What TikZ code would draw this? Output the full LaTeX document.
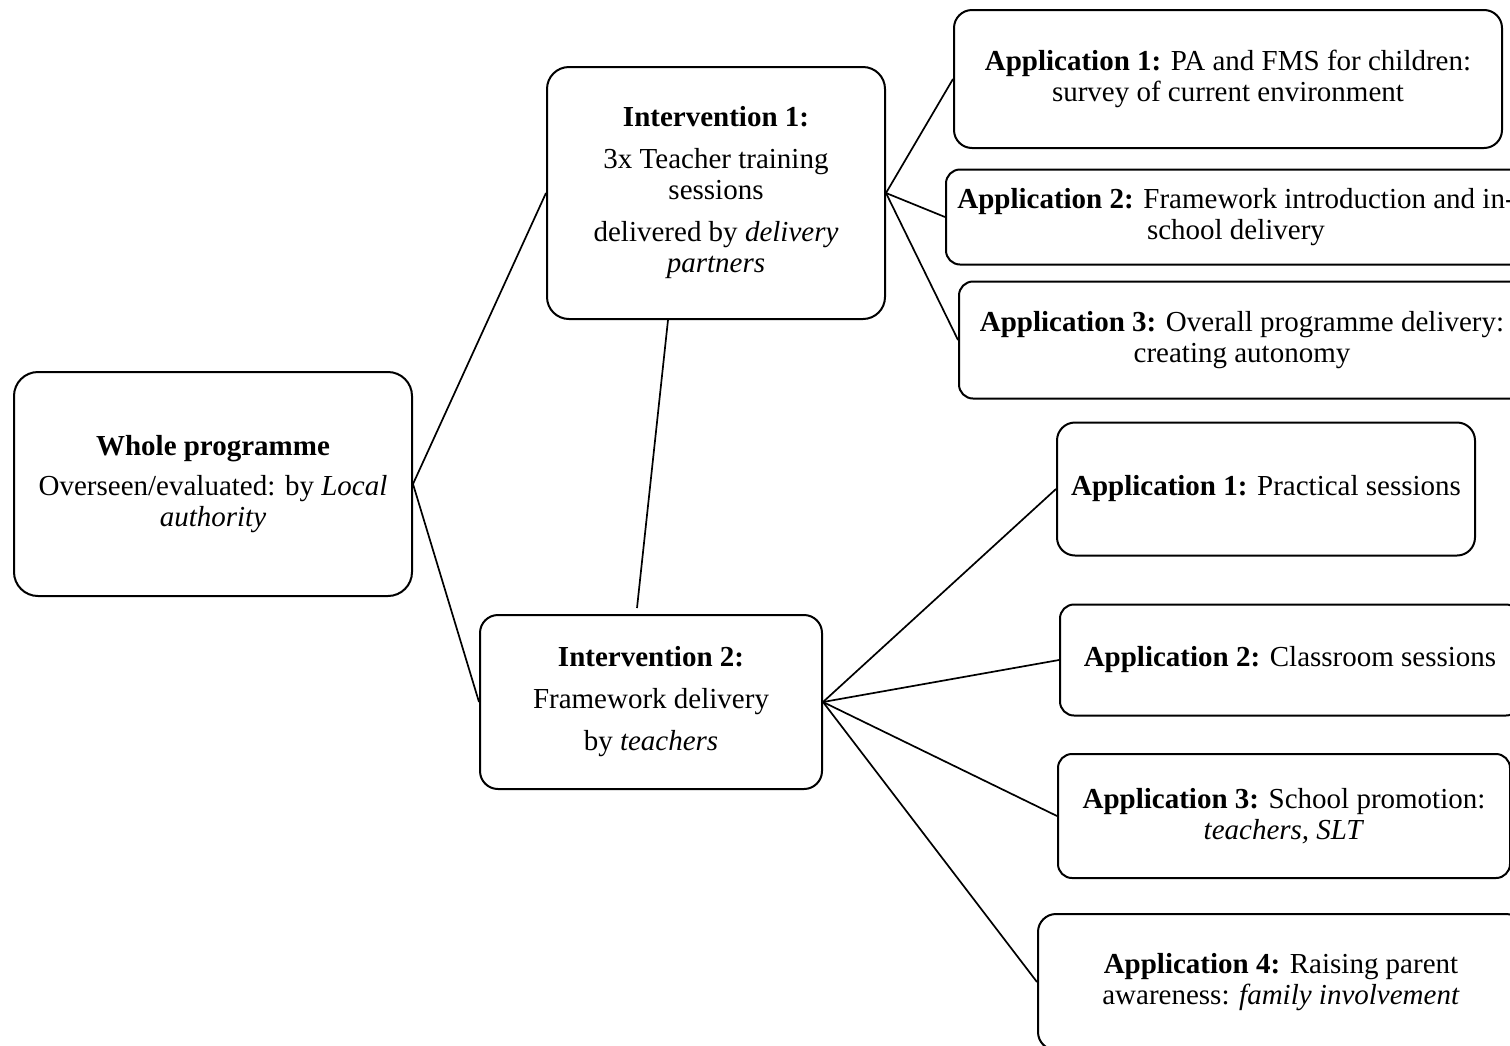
\documentclass[tikz,border=0pt]{standalone}
\usepackage{fontspec}
\setmainfont{Liberation Serif}
\usetikzlibrary{calc}
\tikzset{
  box/.style={draw, line width=2pt, rounded corners=18pt, align=center,
    inner sep=0pt, font=\fontsize{29}{31}\selectfont},
  link/.style={line width=1.7pt}
}
\begin{document}
\begin{tikzpicture}[x=1pt,y=-1pt]
\useasboundingbox (0,0) rectangle (1510,1045);
\clip (0,0) rectangle (1510,1045);

% programme level
\node[box, minimum width=398pt, minimum height=224pt, rounded corners=24pt] (whole) at (213,484)
  {\textbf{Whole programme}\\[9pt] Overseen/evaluated: by \textit{Local}\\ \textit{authority}};

% interventions
\node[box, minimum width=338pt, minimum height=252pt, rounded corners=22pt] (int1) at (716,193)
  {\textbf{Intervention 1:}\\[11pt] 3x Teacher training\\ sessions\\[11pt] delivered by \textit{delivery}\\ \textit{partners}};
\node[box, minimum width=342pt, minimum height=174pt] (int2) at (651,702)
  {\textbf{Intervention 2:}\\[11pt] Framework delivery\\[11pt] by \textit{teachers}};

% applications of intervention 1
\node[box, minimum width=548pt, minimum height=138pt] (a1) at (1228,79)
  {\textbf{Application 1:} PA and FMS for children:\\ survey of current environment};
\node[box, minimum width=580pt, minimum height=95pt, rounded corners=14pt] (a2) at (1236,217)
  {\textbf{Application 2:} Framework introduction and in-\\ school delivery};
\node[box, minimum width=566pt, minimum height=117pt, rounded corners=14pt] (a3) at (1242,340)
  {\textbf{Application 3:} Overall programme delivery:\\ creating autonomy};

% applications of intervention 2
\node[box, minimum width=418pt, minimum height=133pt] (b1) at (1266,489)
  {\textbf{Application 1:} Practical sessions};
\node[box, minimum width=460pt, minimum height=111pt, rounded corners=14pt] (b2) at (1290,660)
  {\textbf{Application 2:} Classroom sessions};
\node[box, minimum width=452pt, minimum height=124pt, rounded corners=14pt] (b3) at (1284,816)
  {\textbf{Application 3:} School promotion:\\ \textit{teachers, SLT}};
\node[box, minimum width=486pt, minimum height=136pt] (b4) at (1281,982)
  {\textbf{Application 4:} Raising parent\\ awareness: \textit{family involvement}};

% connectors
\coordinate (i1b) at ([xshift=-48pt]int1.south);
\coordinate (i2t) at ([xshift=-14pt,yshift=6pt]int2.north);

\draw[link] (whole.east) -- (int1.west);
\draw[link] (whole.east) -- (int2.west);
\draw[link] (i1b) -- (i2t);
\draw[link] (int1.east) -- (a1.west);
\draw[link] (int1.east) -- (a2.west);
\draw[link] (int1.east) -- (a3.west);
\draw[link] (int2.east) -- (b1.west);
\draw[link] (int2.east) -- (b2.west);
\draw[link] (int2.east) -- (b3.west);
\draw[link] (int2.east) -- (b4.west);
\end{tikzpicture}
\end{document}
